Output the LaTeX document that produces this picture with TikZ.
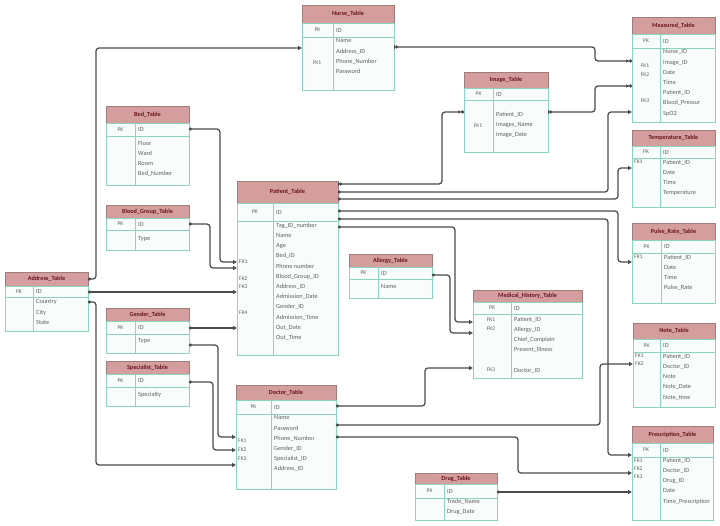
\documentclass[tikz,border=0pt]{standalone}
\usepackage{fontspec}
\setmainfont{Carlito}
\usetikzlibrary{arrows.meta,calc}
\definecolor{hdrfill}{RGB}{212,158,158}
\definecolor{hdrdraw}{RGB}{160,125,125}
\definecolor{bodydraw}{RGB}{140,212,190}
\definecolor{bodyfill}{RGB}{248,253,251}
\definecolor{titlec}{RGB}{105,20,30}
\definecolor{textc}{RGB}{95,95,95}
\definecolor{linec}{RGB}{75,75,75}
\tikzset{
  hdr/.style={draw=hdrdraw, fill=hdrfill, inner sep=0pt, outer sep=0pt, line width=0.5pt,
    font=\fontsize{6.2}{7}\selectfont\bfseries, text=titlec},
  tabbox/.style={draw=bodydraw, fill=bodyfill, inner sep=0pt, outer sep=0pt, line width=0.6pt},
  divline/.style={draw=bodydraw, line width=0.6pt},
  keytext/.style={font=\fontsize{5.6}{6}\selectfont, text=textc, inner sep=0pt},
  fieldtext/.style={font=\fontsize{6.3}{10.2}\selectfont, text=textc, inner sep=0pt, align=left},
  rel/.style={draw=linec, line width=1.25pt, rounded corners=3pt,
    {Circle[length=2.8pt]}-{Bar[width=4.5pt]Latex[length=3pt,width=3.5pt]}},
  relo/.style={draw=linec, line width=1.25pt, rounded corners=3pt,
    {Bar[width=4.5pt]Circle[length=2.8pt]}-{Latex[length=3pt,width=3.5pt]Circle[open,length=3pt]}},
}
% #1 id, #2 left, #3 top, #4 right, #5 divider x, #6 header bottom, #7 pk bottom, #8 bottom, #9 title
\newcommand\ertable[9]{%
  \node[hdr, minimum width={(#4-#2)*1pt}, minimum height={(#6-#3)*1pt}, anchor=north west] (#1H) at (#2,#3) {#9};
  \node[tabbox, minimum width={(#4-#2)*1pt}, minimum height={(#7-#6)*1pt}, anchor=north west] (#1K) at (#2,#6) {};
  \node[tabbox, minimum width={(#4-#2)*1pt}, minimum height={(#8-#7)*1pt}, anchor=north west] (#1B) at (#2,#7) {};
  \draw[divline] (#5,#6) -- (#5,#8);
  \node[keytext] (#1pk) at ({(#2+#5)/2},{(#6+#7)/2}) {PK};
  \node[fieldtext, anchor=west] (#1id) at ({#5+3},{(#6+#7)/2}) {ID};
}
% #1 id, #2 divider x, #3 first row centre y, #4 fields
\newcommand\erfields[4]{%
  \node[fieldtext, anchor=north west] (#1F) at ({#2+3},{#3-3.3}) {#4};
}
\begin{document}
\begin{tikzpicture}[x=1pt,y=-1pt]
\useasboundingbox (0,0) rectangle (720,526);
\fill[white] (0,0) rectangle (720,526);

% ---------- tables ----------
\ertable{nur}{302}{5}{394}{333}{23}{37}{90}{Nurse\_Table}
\erfields{nur}{333}{42}{Name\\Address\_ID\\Phone\_Number\\Password}
\node[keytext] (nurFK1) at (317,63) {FK1};

\ertable{mea}{632}{17}{715}{660}{34}{48}{122}{Measured\_Table}
\erfields{mea}{660}{53}{Nurse\_ID\\Image\_ID\\Date\\Time\\Patient\_ID\\Blood\_Pressur\\SpO2}
\node[keytext] (meaFK1) at (645,66) {FK1};
\node[keytext] (meaFK2) at (645,75) {FK2};
\node[keytext] (meaFK3) at (645,101) {FK3};

\ertable{img}{464}{72}{548}{493}{88}{100}{152}{Image\_Table}
\erfields{img}{493}{115}{Patient\_ID\\Images\_Name\\Image\_Date}
\node[keytext] (imgFK1) at (478,126) {FK1};

\ertable{bed}{106}{106}{189}{135}{123}{136}{185}{Bed\_Table}
\erfields{bed}{135}{144}{Floor\\Ward\\Room\\Bed\_Number}

\ertable{tmp}{632}{130}{715}{660}{146}{158}{207}{Temperature\_Table}
\erfields{tmp}{660}{163}{Patient\_ID\\Date\\Time\\Temperature}
\node[keytext, anchor=west] (tmpFK1) at (634,162) {FK1};

\ertable{pat}{237}{181}{338}{273}{203}{221}{355}{Patient\_Table}
\erfields{pat}{273}{226}{Tag\_ID\_number\\Name\\Age\\Bed\_ID\\Phone number\\Blood\_Group\_ID\\Address\_ID\\Admission\_Date\\Gender\_ID\\Admission\_Time\\Out\_Date\\Out\_Time}
\node[keytext, anchor=west] (patFK1) at (239,262) {FK1};
\node[keytext, anchor=west] (patFK2) at (239,279) {FK2};
\node[keytext, anchor=west] (patFK3) at (239,287) {FK3};
\node[keytext, anchor=west] (patFK4) at (239,313) {FK4};

\ertable{bld}{106}{205}{189}{135}{218}{230}{250}{Blood\_Group\_Table}
\erfields{bld}{135}{240}{Type}

\ertable{pul}{632}{223}{715}{661}{240}{253}{303}{Pulse\_Rate\_Table}
\erfields{pul}{661}{258}{Patient\_ID\\Date\\Time\\Pulse\_Rate}
\node[keytext, anchor=west] (pulFK1) at (634,257) {FK1};

\ertable{adr}{5}{272}{88}{33}{286}{297}{331}{Address\_Table}
\erfields{adr}{33}{303}{Country\\City\\State}

\ertable{alg}{349}{254}{432}{378}{267}{279}{298}{Allergy\_Table}
\erfields{alg}{378}{288}{Name}

\ertable{mh}{473}{290}{582}{511}{302}{314}{378}{Medical\_History\_Table}
\erfields{mh}{511}{320}{Patient\_ID\\Allergy\_ID\\Chief\_Complain\\Present\_Illness\\~\\Doctor\_ID}
\node[keytext] (mhFK1) at (491,320) {FK1};
\node[keytext] (mhFK2) at (491,329) {FK2};
\node[keytext] (mhFK3) at (491,370) {FK3};

\ertable{gen}{106}{308}{189}{135}{321}{334}{353}{Gender\_Table}
\erfields{gen}{135}{342}{Type}

\ertable{note}{633}{323}{715}{660}{339}{352}{407}{Note\_Table}
\erfields{note}{660}{357}{Patient\_ID\\Doctor\_ID\\Note\\Note\_Date\\Note\_time}
\node[keytext, anchor=west] (noteFK1) at (635,356) {FK1};
\node[keytext, anchor=west] (noteFK2) at (635,364) {FK2};

\ertable{spe}{106}{361}{189}{135}{374}{387}{406}{Specialist\_Table}
\erfields{spe}{135}{395}{Specialty}

\ertable{doc}{236}{385}{336}{271}{400}{414}{489}{Doctor\_Table}
\erfields{doc}{271}{419}{Name\\Password\\Phone\_Number\\Gender\_ID\\Specialist\_ID\\Address\_ID}
\node[keytext, anchor=west] (docFK1) at (238,441) {FK1};
\node[keytext, anchor=west] (docFK2) at (238,450) {FK2};
\node[keytext, anchor=west] (docFK3) at (238,459) {FK3};

\ertable{pre}{632}{426}{713}{660}{443}{457}{520}{Prescription\_Table}
\erfields{pre}{660}{461}{Patient\_ID\\Doctor\_ID\\Drug\_ID\\Date\\Time\_Prescription}
\node[keytext, anchor=west] (preFK1) at (634,461) {FK1};
\node[keytext, anchor=west] (preFK2) at (634,469) {FK2};
\node[keytext, anchor=west] (preFK3) at (634,477) {FK3};

\ertable{drg}{415}{473}{497}{444}{484}{498}{520}{Drug\_Table}
\erfields{drg}{444}{502}{Trade\_Name\\Drug\_Date}

% ---------- relations ----------
\draw[relo] (patH.east |- 0,184) -| (442,112) -- (imgB.west |- 0,112);
\draw[rel] (patH.east |- 0,192) -| (608,112) -- (meaB.west |- 0,112);
\draw[rel] (patH.east |- 0,199) -| (618,168) -- (tmpB.west |- 0,168);
\draw[rel] (patK.east |- 0,211) -| (618,262) -- (pulB.west |- 0,262);
\draw[rel] (patK.east |- 0,219) -| (608,455) -- (preK.west |- 0,455);
\draw[rel] (patB.east |- 0,227) -| (455,322) -- (mhB.west |- 0,322);
\draw[rel] (algK.east |- 0,275) -| (450,333) -- (mhB.west |- 0,333);
\draw[relo] (nurB.east |- 0,47) -| (595,61) -- (meaB.west |- 0,61);
\draw[relo] (imgB.east |- 0,112) -| (595,86) -- (meaB.west |- 0,86);
\draw[rel] (adrH.east |- 0,279) -| (96,48) -- (nurB.west |- 0,48);
\draw[rel] (adrK.east |- 0,292) -- (patB.west |- 0,292);
\draw[rel] (adrB.east |- 0,302) -| (96,465) -- (docB.west |- 0,465);
\draw[rel] (bedK.east |- 0,129) -| (220,262) -- (patB.west |- 0,262);
\draw[rel] (bldK.east |- 0,224) -| (210,268) -- (patB.west |- 0,268);
\draw[rel] (genK.east |- 0,328) -- (patB.west |- 0,328);
\draw[rel] (genB.east |- 0,345) -| (218,437) -- (docB.west |- 0,437);
\draw[rel] (speK.east |- 0,382) -| (213,450) -- (docB.west |- 0,450);
\draw[rel] (docK.east |- 0,406) -| (425,368) -- (mhB.west |- 0,368);
\draw[rel] (docB.east |- 0,425) -| (600,364) -- (noteB.west |- 0,364);
\draw[rel] (docB.east |- 0,437) -| (518,473) -- (preB.west |- 0,473);
\draw[rel] (drgK.east |- 0,492) -- (preB.west |- 0,492);
\end{tikzpicture}
\end{document}
